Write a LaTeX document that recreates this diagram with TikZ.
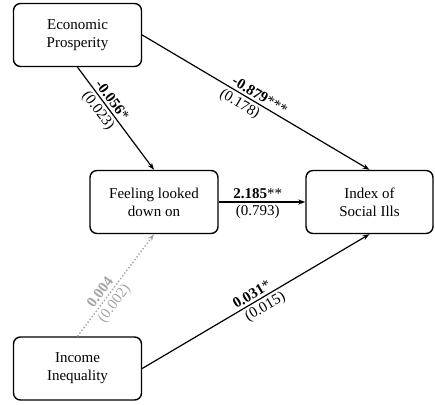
\documentclass[tikz,border=0pt]{standalone}
\usepackage{fontspec}
\setmainfont{Liberation Serif}
\usepackage{tikz}
\usetikzlibrary{arrows.meta}
\definecolor{pathblack}{RGB}{0,0,0}
\definecolor{nsgray}{RGB}{165,165,165}

\tikzset{
    varbox/.style={draw=pathblack, line width=1.4pt, rounded corners=7pt, minimum width=128pt, minimum height=63pt, align=center, inner sep=2pt, font=\fontsize{15}{18}\selectfont},
    path/.style={draw=pathblack, line width=1.2pt, -{Stealth[length=7pt, width=5pt]}},
    nspath/.style={draw=nsgray, line width=1.4pt, dotted, -{Stealth[length=7pt, width=5pt]}},
    coef/.style={font=\fontsize{15}{18}\selectfont, inner sep=2.5pt, sloped}
}

\begin{document}
\begin{tikzpicture}[x=1pt, y=1pt]
    \useasboundingbox (0,0) rectangle (435,404);

    % Variables
    \node[varbox] (prosp) at (77.5,369) {Economic\\Prosperity};
    \node[varbox] (feel) at (154,202) {Feeling looked\\down on};
    \node[varbox, minimum width=127pt] (ills) at (369.5,202) {Index of\\Social Ills};
    \node[varbox] (ineq) at (77.5,35.5) {Income\\Inequality};

    % Paths
    \draw[path] (prosp.south) -- (feel.north)
        node[coef, above, pos=0.37] {\textbf{-0.056}*}
        node[coef, below, pos=0.37] {(0.023)};
    \draw[path] (prosp.east) -- (ills.north)
        node[coef, above, pos=0.5] {\textbf{-0.879}***}
        node[coef, below, pos=0.45] {(0.178)};
    \draw[path] (feel.east) -- (ills.west)
        node[coef, above, pos=0.45] {\textbf{2.185}**}
        node[coef, below, pos=0.45] {(0.793)};
    \draw[nspath] (ineq.north) -- (feel.south)
        node[coef, above, pos=0.38, text=nsgray] {\textbf{0.004}}
        node[coef, below, pos=0.38, text=nsgray] {(0.002)};
    \draw[path] (ineq.east) -- (ills.south)
        node[coef, above, pos=0.5] {\textbf{0.031}*}
        node[coef, below, pos=0.52] {(0.015)};
\end{tikzpicture}
\end{document}
